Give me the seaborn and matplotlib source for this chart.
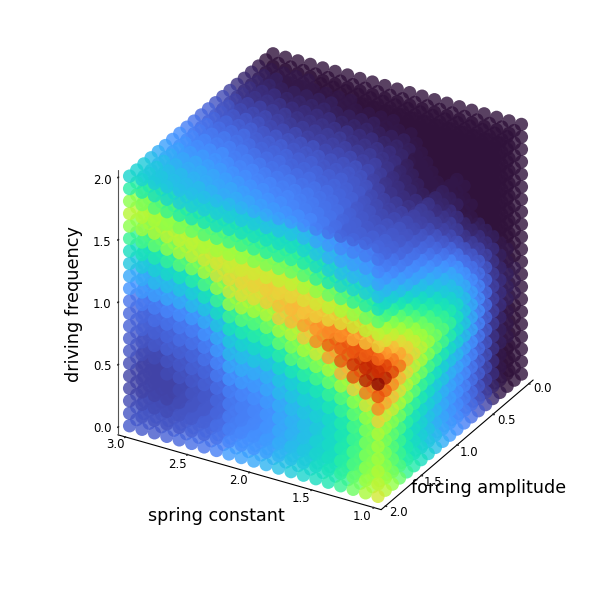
#!/usr/bin/env python3
# -*- coding: utf-8 -*-

import matplotlib
matplotlib.use("Agg")
import matplotlib.pyplot as plt
import seaborn as sns

spring_constant = [3.0, 2.9, 2.8, 2.7, 2.6, 2.5, 2.4, 2.3, 2.2, 2.1, 2.0, 1.9, 1.8, 1.7, 1.6, 1.5, 1.4, 1.3, 1.2, 1.1, 1.0]
forcing_amplitude = [2.0, 1.9, 1.8, 1.7, 1.6, 1.5, 1.4, 1.3, 1.2, 1.1, 1.0, 0.9, 0.8, 0.7, 0.6, 0.5, 0.4, 0.3, 0.2, 0.1, 0.0]
driving_frequency = [2.0, 1.9, 1.8, 1.7, 1.6, 1.5, 1.4, 1.3, 1.2, 1.1, 1.0, 0.9, 0.8, 0.7, 0.6, 0.5, 0.4, 0.3, 0.2, 0.1, 0.0]

# face at forcing = 2: one list per spring constant, frequency from 2 down to 0
left_face = [
    [.30, .36, .47, .53, .47, .38, .32, .27, .22, .19, .14, .12, .11, .10, .09, .08, .07, .07, .08, .09, .10],
    [.29, .35, .45, .53, .50, .40, .33, .28, .23, .20, .15, .12, .11, .09, .08, .07, .07, .07, .08, .09, .10],
    [.28, .32, .41, .51, .52, .43, .35, .29, .25, .21, .16, .13, .11, .10, .08, .07, .07, .07, .08, .09, .10],
    [.27, .30, .38, .48, .54, .48, .38, .31, .26, .22, .17, .14, .12, .11, .09, .08, .07, .07, .08, .09, .11],
    [.26, .28, .35, .45, .54, .52, .42, .33, .27, .23, .18, .15, .13, .11, .10, .09, .08, .08, .09, .10, .12],
    [.26, .28, .33, .43, .54, .55, .46, .36, .29, .25, .20, .16, .14, .12, .11, .10, .09, .09, .10, .11, .13],
    [.26, .28, .33, .41, .52, .57, .52, .41, .33, .27, .23, .19, .16, .14, .12, .11, .10, .10, .11, .12, .14],
    [.25, .28, .32, .40, .50, .58, .58, .49, .39, .32, .27, .23, .20, .17, .15, .13, .12, .12, .13, .14, .16],
    [.25, .28, .32, .39, .49, .56, .60, .57, .49, .39, .33, .28, .25, .22, .19, .16, .15, .15, .16, .17, .20],
    [.24, .27, .32, .38, .48, .57, .61, .59, .52, .42, .35, .30, .26, .23, .20, .17, .16, .16, .17, .18, .21],
    [.23, .27, .32, .37, .46, .57, .62, .60, .51, .42, .36, .31, .27, .23, .20, .18, .17, .17, .18, .19, .22],
    [.22, .26, .32, .36, .45, .56, .63, .63, .53, .45, .38, .33, .28, .24, .22, .20, .19, .19, .20, .21, .24],
    [.21, .26, .31, .36, .44, .55, .62, .66, .63, .51, .43, .36, .31, .27, .25, .23, .22, .22, .23, .24, .26],
    [.20, .26, .31, .36, .43, .54, .61, .67, .67, .54, .47, .42, .34, .29, .27, .25, .24, .24, .25, .26, .28],
    [.18, .24, .29, .34, .41, .51, .59, .65, .71, .64, .51, .44, .37, .32, .29, .27, .26, .26, .27, .28, .30],
    [.16, .21, .26, .31, .37, .47, .57, .63, .73, .74, .57, .47, .40, .34, .31, .29, .28, .29, .30, .31, .32],
    [.14, .19, .23, .28, .33, .43, .54, .61, .74, .80, .71, .52, .44, .38, .34, .31, .31, .31, .32, .33, .34],
    [.12, .17, .21, .25, .30, .40, .51, .60, .73, .81, .81, .68, .51, .42, .38, .35, .34, .35, .36, .37, .38],
    [.12, .16, .20, .24, .29, .37, .48, .57, .69, .81, .88, .82, .62, .48, .43, .40, .39, .40, .41, .43, .44],
    [.12, .15, .19, .23, .28, .35, .44, .54, .65, .79, .90, .92, .76, .58, .49, .46, .45, .46, .47, .49, .51],
    [.12, .14, .17, .21, .26, .32, .42, .54, .62, .78, .88, .98, .82, .74, .62, .52, .50, .50, .52, .54, .57],
]

# face at spring = 1: one list per forcing from 2 down to 0, frequency from 2 down to 0
right_face = [
    [.12, .14, .17, .21, .26, .32, .42, .54, .62, .78, .88, .98, .82, .74, .62, .52, .50, .50, .52, .54, .57],
    [.11, .12, .15, .19, .24, .30, .39, .50, .58, .72, .84, .92, .80, .70, .58, .49, .46, .46, .47, .49, .53],
    [.10, .11, .14, .17, .22, .28, .36, .46, .55, .66, .76, .84, .74, .66, .56, .47, .43, .42, .43, .45, .48],
    [.09, .10, .12, .15, .20, .25, .33, .42, .50, .60, .70, .77, .68, .60, .52, .45, .41, .39, .39, .41, .43],
    [.08, .09, .11, .14, .18, .23, .30, .38, .45, .54, .62, .68, .62, .54, .47, .41, .37, .35, .35, .36, .38],
    [.07, .08, .10, .13, .17, .21, .27, .34, .41, .49, .56, .61, .56, .49, .43, .38, .34, .32, .32, .33, .35],
    [.06, .07, .09, .12, .16, .20, .25, .31, .37, .44, .50, .55, .52, .45, .39, .35, .31, .30, .29, .30, .32],
    [.05, .06, .08, .11, .14, .18, .23, .28, .34, .40, .45, .50, .47, .41, .36, .32, .29, .27, .27, .27, .29],
    [.03, .04, .06, .09, .12, .16, .21, .26, .31, .36, .41, .45, .43, .38, .33, .29, .27, .25, .24, .25, .26],
    [.02, .03, .05, .07, .10, .14, .19, .24, .28, .33, .38, .42, .40, .35, .30, .27, .24, .23, .22, .22, .23],
    [.01, .02, .04, .06, .08, .12, .17, .22, .26, .30, .35, .38, .36, .32, .27, .24, .22, .21, .20, .20, .20],
    [.01, .01, .02, .04, .06, .09, .14, .19, .23, .27, .31, .33, .32, .29, .25, .22, .20, .19, .18, .18, .18],
    [.00, .01, .01, .01, .03, .05, .09, .14, .19, .23, .26, .28, .28, .26, .22, .20, .18, .17, .16, .16, .16],
    [.00, .00, .00, .01, .01, .03, .06, .10, .14, .18, .21, .23, .23, .22, .19, .17, .15, .14, .13, .13, .13],
    [.00, .00, .00, .00, .00, .02, .04, .07, .11, .14, .17, .18, .18, .17, .15, .13, .12, .11, .10, .10, .10],
    [.00, .00, .00, .00, .00, .00, .02, .04, .07, .10, .12, .13, .13, .12, .11, .10, .09, .08, .07, .07, .07],
    [.00, .00, .00, .00, .00, .00, .00, .02, .04, .05, .06, .07, .07, .07, .06, .05, .05, .04, .04, .03, .03],
    [.00, .00, .00, .00, .00, .00, .00, .00, .01, .02, .03, .04, .04, .04, .03, .02, .02, .01, .01, .01, .01],
    [.00, .00, .00, .00, .00, .00, .00, .00, .00, .01, .01, .02, .02, .02, .01, .01, .01, .00, .00, .00, .00],
    [.00, .00, .00, .00, .00, .00, .00, .00, .00, .00, .00, .01, .01, .01, .00, .00, .00, .00, .00, .00, .00],
    [.00, .00, .00, .00, .00, .00, .00, .00, .00, .00, .00, .00, .00, .00, .00, .00, .00, .00, .00, .00, .00],
]

# face at frequency = 2: one list per spring constant, forcing from 2 down to 0
top_face = [
    [.30, .29, .28, .25, .23, .21, .19, .18, .16, .14, .12, .11, .09, .08, .06, .04, .03, .02, .01, 0, 0],
    [.29, .28, .27, .25, .23, .21, .19, .17, .15, .14, .12, .10, .09, .07, .05, .04, .03, .02, .01, 0, 0],
    [.28, .27, .26, .24, .22, .20, .18, .17, .15, .13, .12, .10, .08, .07, .05, .04, .03, .02, .01, 0, 0],
    [.27, .26, .25, .23, .22, .20, .18, .16, .15, .13, .11, .10, .08, .07, .05, .04, .02, .01, .01, 0, 0],
    [.26, .25, .24, .23, .21, .19, .18, .16, .14, .13, .11, .09, .08, .06, .05, .03, .02, .01, .01, 0, 0],
    [.26, .25, .23, .22, .20, .18, .16, .15, .13, .11, .10, .08, .07, .06, .04, .03, .02, .01, 0, 0, 0],
    [.26, .24, .22, .21, .19, .17, .16, .14, .12, .11, .10, .08, .06, .05, .04, .03, .02, .01, 0, 0, 0],
    [.25, .23, .22, .20, .18, .17, .15, .13, .12, .11, .09, .08, .06, .05, .04, .03, .02, .01, 0, 0, 0],
    [.25, .23, .21, .19, .17, .16, .14, .13, .12, .10, .09, .07, .06, .05, .04, .02, .01, .01, 0, 0, 0],
    [.24, .22, .20, .18, .17, .15, .14, .12, .11, .10, .09, .07, .06, .05, .03, .02, .01, 0, 0, 0, 0],
    [.23, .21, .19, .17, .16, .15, .13, .12, .11, .10, .08, .07, .06, .05, .03, .02, .01, 0, 0, 0, 0],
    [.22, .20, .18, .17, .16, .14, .13, .12, .10, .09, .08, .07, .05, .04, .03, .02, .01, 0, 0, 0, 0],
    [.21, .19, .17, .16, .15, .14, .12, .11, .10, .09, .08, .06, .05, .04, .02, .01, .01, 0, 0, 0, 0],
    [.20, .18, .16, .15, .14, .13, .12, .11, .10, .09, .07, .06, .05, .03, .02, .01, 0, 0, 0, 0, 0],
    [.18, .17, .15, .14, .13, .12, .11, .10, .09, .08, .07, .05, .04, .03, .02, .01, 0, 0, 0, 0, 0],
    [.16, .15, .14, .13, .12, .11, .10, .09, .07, .06, .05, .04, .03, .02, .01, 0, 0, 0, 0, 0, 0],
    [.14, .13, .12, .11, .10, .09, .08, .07, .05, .04, .03, .02, .01, .01, 0, 0, 0, 0, 0, 0, 0],
    [.12, .11, .11, .10, .09, .08, .07, .05, .04, .03, .02, .01, .01, 0, 0, 0, 0, 0, 0, 0, 0],
    [.12, .11, .10, .09, .08, .07, .06, .04, .03, .02, .01, .01, 0, 0, 0, 0, 0, 0, 0, 0, 0],
    [.12, .11, .10, .09, .08, .07, .05, .04, .02, .01, .01, 0, 0, 0, 0, 0, 0, 0, 0, 0, 0],
    [.12, .11, .10, .09, .08, .07, .05, .03, .02, .01, 0, 0, 0, 0, 0, 0, 0, 0, 0, 0, 0],
]

spring_ticks = [1.0, 1.5, 2.0, 2.5, 3.0]
forcing_ticks = [0.0, 0.5, 1.0, 1.5, 2.0]
frequency_ticks = [0.0, 0.5, 1.0, 1.5, 2.0]


def grid_points():
    # the inside cannot be read from the picture, each point takes the value of its nearest face
    xs, ys, zs, vals = [], [], [], []
    for c, k in enumerate(spring_constant):
        for j, f in enumerate(forcing_amplitude):
            for r, w in enumerate(driving_frequency):
                d_top, d_left, d_right = r, j, 20 - c
                nearest = min(d_top, d_left, d_right)
                if nearest == d_left:
                    v = left_face[c][r]
                elif nearest == d_right:
                    v = right_face[j][r]
                else:
                    v = top_face[c][j]
                xs.append(k)
                ys.append(f)
                zs.append(w)
                vals.append(v)
    return xs, ys, zs, vals


def px_text(fig, x, y, s, **kw):
    fig.text(x / 600, 1 - y / 600, s, color='black', ha='center', va='center', **kw)


def main():
    sns.set_theme(style="white")
    plt.rcParams['font.family'] = ['DejaVu Sans']

    fig = plt.figure(figsize=(6, 6), dpi=100)
    ax = fig.add_axes([0.029, 0.028, 1.0, 1.0], projection='3d', proj_type='ortho')
    ax.set_box_aspect((1, 1, 1), zoom=0.852)
    ax.view_init(elev=29.5, azim=120)
    ax.patch.set_alpha(0)

    turbo = sns.color_palette("turbo", as_cmap=True)
    xs, ys, zs, vals = grid_points()
    ax.scatter(xs, ys, zs, c=vals, cmap=turbo, vmin=0, vmax=1, s=92,
               alpha=0.8, linewidths=0, depthshade=False)

    ax.set_xlim(0.94, 3.06)
    ax.set_ylim(-0.06, 2.06)
    ax.set_zlim(-0.06, 2.06)
    ax.set_xticks(spring_ticks)
    ax.set_yticks(forcing_ticks)
    ax.set_zticks(frequency_ticks)
    ax.set_xticklabels([])
    ax.set_yticklabels([])
    ax.set_zticklabels([])
    ax.grid(False)
    ax.zaxis.set_ticks_position('upper')

    for axis in (ax.xaxis, ax.yaxis, ax.zaxis):
        axis.pane.set_visible(False)
        axis.line.set_color('black')
        axis.line.set_linewidth(0.8)
        axis._axinfo['tick']['inward_factor'] = 0.05
        axis._axinfo['tick']['outward_factor'] = 0.0
    ax.zaxis.line.set_color('#555555')
    ax.zaxis._axinfo['tick']['inward_factor'] = 0.0
    ax.zaxis._axinfo['tick']['outward_factor'] = 0.05

    # tick labels sit closer to the lines than mplot3d allows
    for t, x, y in zip([3.0, 2.5, 2.0, 1.5, 1.0], [115, 177, 238, 301, 362], [444, 464, 481, 498, 516]):
        px_text(fig, x, y, f"{t:.1f}", fontsize=8.5)
    for t, x, y in zip(forcing_ticks, [542, 506, 469, 433, 398], [389, 421, 452, 482, 513]):
        px_text(fig, x, y, f"{t:.1f}", fontsize=8.5)
    for t, y in zip(frequency_ticks, [428, 367, 304, 242, 180]):
        px_text(fig, 102, y, f"{t:.1f}", fontsize=8.5)

    px_text(fig, 216, 516, "spring constant", fontsize=12.6)
    px_text(fig, 489, 488, "forcing amplitude", fontsize=12.6)
    px_text(fig, 74, 304, "driving frequency", fontsize=12.7, rotation=90)

    fig.savefig("out.png", dpi=100)


if __name__ == "__main__":
    main()
